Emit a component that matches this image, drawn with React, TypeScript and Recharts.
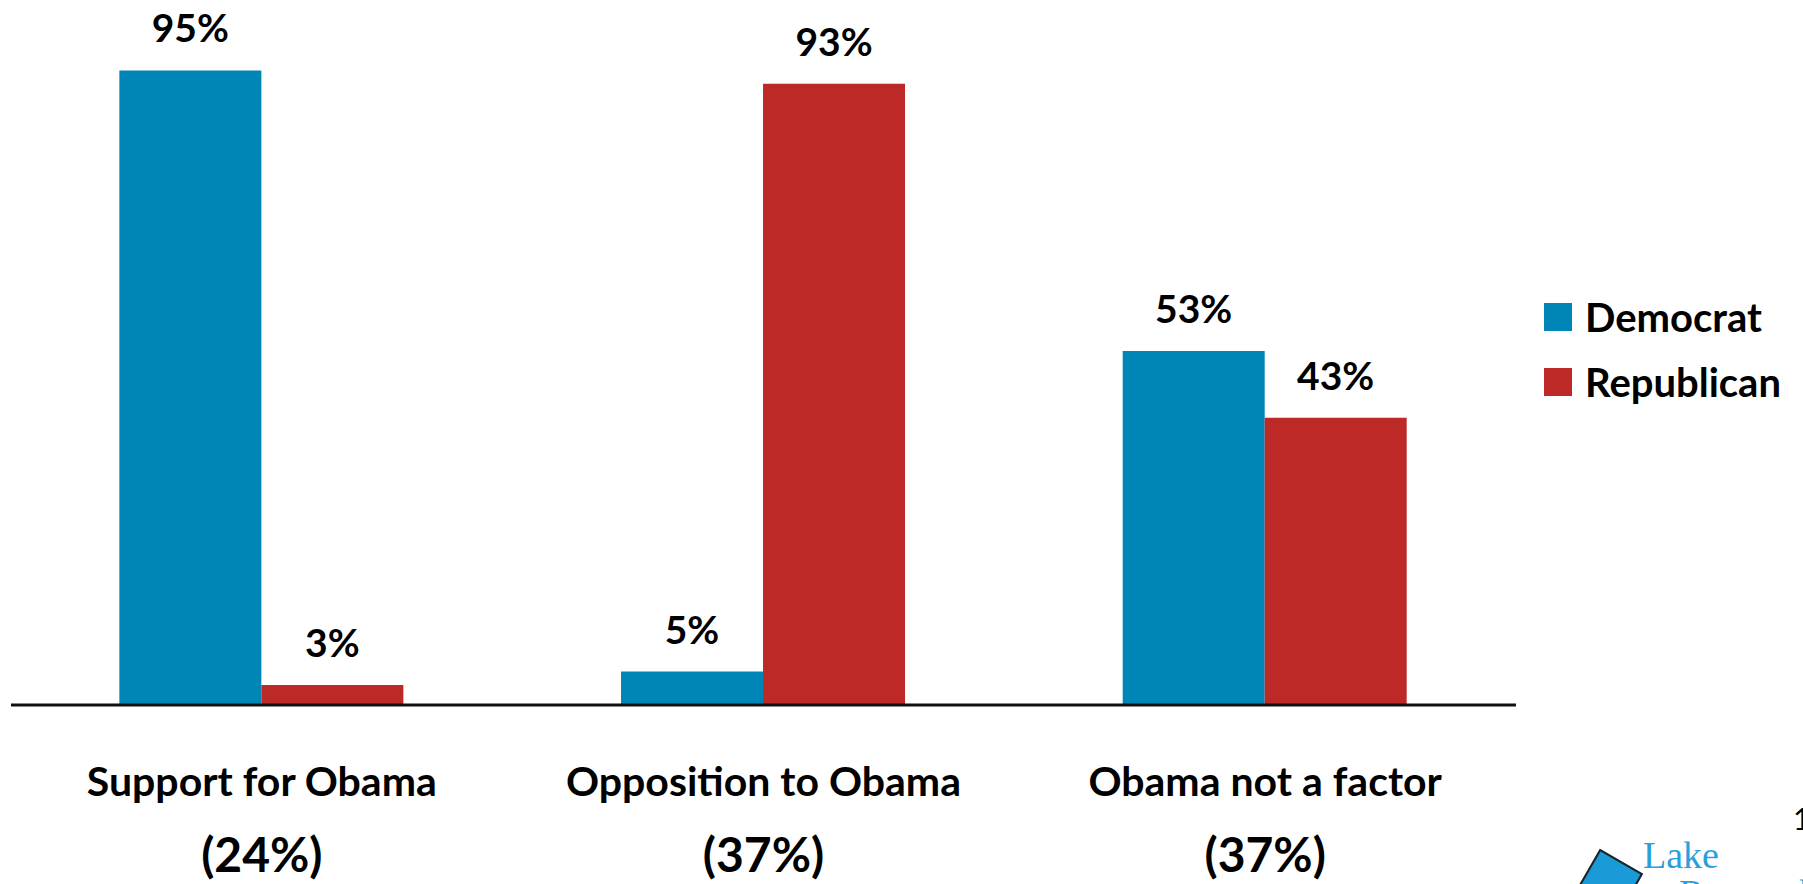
import { BarChart, Bar, XAxis, YAxis, LabelList } from 'recharts';

const categories = ['Support for Obama', 'Opposition to Obama', 'Obama not a factor'];
const shares = ['(24%)', '(37%)', '(37%)'];
const democrat = [95, 5, 53];
const republican = [3, 93, 43];

const COLORS = {
  democrat: '#0086b6',
  republican: '#bd2926',
};

const FONT = 'Lato, "Open Sans", sans-serif';

const data = categories.map((name, i) => ({
  name,
  democrat: democrat[i],
  republican: republican[i],
}));

const legendItems = [
  { label: 'Democrat', color: COLORS.democrat },
  { label: 'Republican', color: COLORS.republican },
];

function CategoryTick({ x, y, payload, index }: any) {
  return (
    <g>
      <text x={x} y={y + 83} textAnchor="middle" fontFamily={FONT} fontWeight={700} fontSize={41} fill="#000">
        {payload.value}
      </text>
      <text x={x} y={y + 159} textAnchor="middle" fontFamily={FONT} fontWeight={700} fontSize={48} fill="#000">
        {shares[index]}
      </text>
    </g>
  );
}

function ValueLabel({ x, y, width, value }: any) {
  return (
    <text x={x + width / 2} y={y - 28} textAnchor="middle" fontFamily={FONT} fontWeight={700} fontSize={39} fill="#000">
      {value}%
    </text>
  );
}

export default function App() {
  return (
    <div style={{ position: 'absolute', left: 0, top: 0, width: 1803, height: 884, background: '#fff', overflow: 'hidden' }}>
      <BarChart
        width={1803}
        height={884}
        data={data}
        margin={{ top: 37, right: 287, bottom: 0, left: 11 }}
        barCategoryGap="21.6%"
        barGap={0}
      >
        <XAxis
          dataKey="name"
          height={179}
          tickLine={false}
          axisLine={{ stroke: '#111', strokeWidth: 3 }}
          tick={<CategoryTick />}
          interval={0}
        />
        <YAxis hide domain={[0, 100]} />
        <Bar dataKey="democrat" name="Democrat" fill={COLORS.democrat} isAnimationActive={false}>
          <LabelList dataKey="democrat" content={<ValueLabel />} />
        </Bar>
        <Bar dataKey="republican" name="Republican" fill={COLORS.republican} isAnimationActive={false}>
          <LabelList dataKey="republican" content={<ValueLabel />} />
        </Bar>
      </BarChart>
      <div style={{ position: 'absolute', left: 1544, top: 284, fontFamily: FONT, fontWeight: 700, fontSize: 40, color: '#000' }}>
        {legendItems.map((it) => (
          <div key={it.label} style={{ display: 'flex', alignItems: 'center', height: 65 }}>
            <span style={{ width: 28, height: 28, background: it.color, marginRight: 13, display: 'inline-block' }} />
            <span>{it.label}</span>
          </div>
        ))}
      </div>
      <div style={{ position: 'absolute', left: 1793, top: 800, fontFamily: FONT, fontSize: 30, color: '#000' }}>1</div>
      <div style={{ position: 'absolute', left: 1584, top: 858, width: 46, height: 46, background: '#1a9ad6', transform: 'rotate(30deg)', border: '2px solid #222' }} />
      <div style={{ position: 'absolute', left: 1643, top: 836, fontFamily: '"Liberation Serif", serif', fontSize: 38, color: '#2a9fd8', lineHeight: 1 }}>
        Lake
        <br />
        <span style={{ marginLeft: 36 }}>Research</span>
      </div>
    </div>
  );
}
